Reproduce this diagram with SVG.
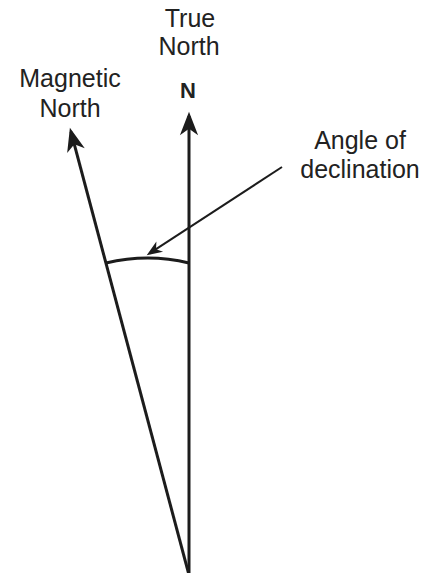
<svg xmlns="http://www.w3.org/2000/svg" width="428" height="573" viewBox="0 0 428 573">
<style>
text{font-family:"Liberation Sans",Arial,sans-serif;fill:#222;text-anchor:middle}
.lbl{font-size:25px}
.main{stroke:#1c1c1c;stroke-width:3;fill:none}
.lead{stroke:#1c1c1c;stroke-width:2;fill:none}
</style>
<defs>
<marker id="bigArrow" markerUnits="userSpaceOnUse" markerWidth="30" markerHeight="30" viewBox="-24 -12 28 24" refX="-4" refY="0" orient="auto">
<path d="M0,0 L-22,-8.5 L-16,0 L-22,8.5 Z" fill="#1c1c1c"/>
</marker>
<marker id="smallArrow" markerUnits="userSpaceOnUse" markerWidth="20" markerHeight="20" viewBox="-16 -8 18 16" refX="-3" refY="0" orient="auto">
<path d="M0,0 L-14,-5.5 L-10,0 L-14,5.5 Z" fill="#1c1c1c"/>
</marker>
</defs>
<g id="true-north-label">
<text class="lbl" x="190" y="27">True</text>
<text class="lbl" x="189" y="55">North</text>
<text x="188" y="98" style="font-size:22px;font-weight:bold">N</text>
</g>
<g id="magnetic-north-label">
<text class="lbl" x="70" y="87">Magnetic</text>
<text class="lbl" x="70" y="117">North</text>
</g>
<g id="angle-label">
<text class="lbl" x="360" y="149">Angle of</text>
<text class="lbl" x="360" y="178">declination</text>
</g>
<g id="connectors">
<line id="true-north" class="main" x1="189" y1="575" x2="189" y2="116" marker-end="url(#bigArrow)"/>
<line id="magnetic-north" class="main" x1="189" y1="575" x2="71.0" y2="131.9" marker-end="url(#bigArrow)"/>
<path id="angle-arc" class="main" d="M106,263 Q148,253 189,263"/>
<line id="leader" class="lead" x1="282" y1="167" x2="149.5" y2="253.4" marker-end="url(#smallArrow)"/>
</g>
</svg>
